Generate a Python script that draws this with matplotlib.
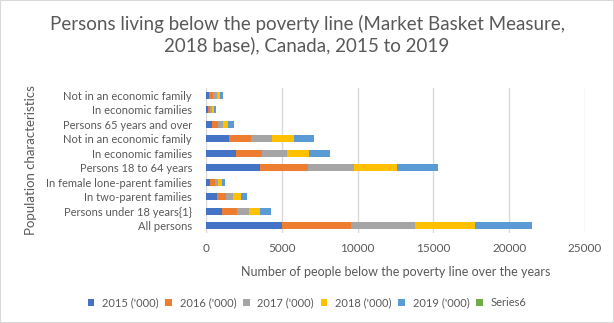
import matplotlib
matplotlib.use("Agg")
import matplotlib.pyplot as plt
import numpy as np

plt.rcParams['font.family'] = ['Lato', 'DejaVu Sans']

categories = ['All persons', 'Persons under 18 years{1}', 'In two-parent families',
              'In female lone-parent families', 'Persons 18 to 64 years',
              'In economic families', 'Not in an economic family',
              'Persons 65 years and over', 'In economic families',
              'Not in an economic family']

y2015 = [5000, 1060, 730, 265, 3570, 1980, 1520, 400, 130, 200]
y2016 = [4580, 990, 595, 330, 3170, 1720, 1455, 395, 130, 265]
y2017 = [4230, 795, 460, 200, 3040, 1650, 1390, 330, 135, 265]
y2018 = [3965, 725, 530, 265, 2840, 1455, 1455, 330, 130, 200]
y2019 = [3700, 725, 395, 200, 2710, 1390, 1320, 395, 130, 200]
series6 = [0] * 10

series = [y2015, y2016, y2017, y2018, y2019, series6]
names = ["2015 ('000)", "2016 ('000)", "2017 ('000)", "2018 ('000)", "2019 ('000)", 'Series6']
colors = ['#4472C4', '#ED7D31', '#A5A5A5', '#FFC000', '#5B9BD5', '#70AD47']

txt = '#595959'

fig = plt.figure(figsize=(6.14, 3.23), dpi=100)
ax = fig.add_axes([206/614, 1 - 233/323, (585 - 206)/614, (233 - 88)/323])

ypos = np.arange(len(categories))
left = np.zeros(len(categories))
for vals, name, c in zip(series, names, colors):
    ax.barh(ypos, vals, left=left, height=0.45, color=c, label=name, zorder=3)
    left += np.array(vals)

ax.set_xlim(0, 25000)
ax.set_ylim(-0.5, len(categories) - 0.5)
ax.set_xticks(np.arange(0, 25001, 5000))
ax.set_yticks(ypos)
ax.set_yticklabels(categories)
ax.grid(axis='x', color='#D9D9D9', linewidth=1, zorder=0)
for s in ax.spines.values():
    s.set_visible(False)
ax.tick_params(length=0, colors=txt, labelsize=8.5)
ax.tick_params(axis='y', pad=10, labelsize=8)
ax.tick_params(axis='x', pad=7)

ax.set_xlabel('Number of people below the poverty line over the years', color=txt, fontsize=9, labelpad=9)
ax.set_ylabel('Population characteristics', color=txt, fontsize=9.5)
ax.yaxis.set_label_coords(-0.445, 0.5)

fig.suptitle('Persons living below the poverty line (Market Basket Measure,\n2018 base), Canada, 2015 to 2019',
             color=txt, fontsize=13.5, y=0.955, linespacing=1.25)

handles, labels = ax.get_legend_handles_labels()
fig.legend(handles, labels, loc='center', bbox_to_anchor=(0.5, 1 - 303/323), ncol=6,
           frameon=False, fontsize=8, labelcolor=txt, handlelength=0.6, handleheight=0.6,
           columnspacing=0.6, handletextpad=0.7)

fig.patches.append(plt.Rectangle((0, 0), 1, 1, transform=fig.transFigure, fill=False,
                                 edgecolor='#D9D9D9', linewidth=1.5))

fig.savefig('out.png', dpi=100)
